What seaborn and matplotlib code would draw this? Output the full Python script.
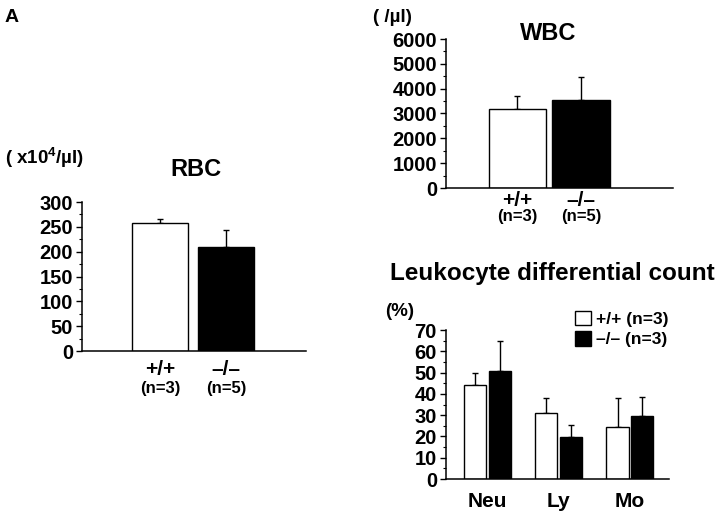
import matplotlib
matplotlib.use("Agg")
import matplotlib.pyplot as plt
import matplotlib.patches as mpatches
from matplotlib.ticker import MultipleLocator
import seaborn as sns
import pandas as pd

# values (mean + upper SEM)
genotypes = ["+/+", "–/–"]
rbc_n = ["(n=3)", "(n=5)"]
rbc_mean = [258, 209]
rbc_sem = [7, 35]

wbc_n = ["(n=3)", "(n=5)"]
wbc_mean = [3190, 3540]
wbc_sem = [520, 930]

cell_types = ["Neu", "Ly", "Mo"]
wt_pct = [44.3, 31.2, 24.6]
wt_sem = [5.5, 6.8, 13.4]
ko_pct = [50.7, 19.9, 29.4]
ko_sem = [14.3, 5.5, 9.2]
legend_labels = ["+/+ (n=3)", "–/– (n=3)"]

sns.set_style("ticks")
plt.rcParams['font.family'] = ['Liberation Sans', 'DejaVu Sans']
plt.rcParams['font.weight'] = 'bold'
plt.rcParams['axes.edgecolor'] = 'black'
plt.rcParams['xtick.color'] = 'black'
plt.rcParams['ytick.color'] = 'black'
plt.rcParams['text.color'] = 'black'
plt.rcParams['mathtext.fontset'] = 'custom'
plt.rcParams['mathtext.rm'] = 'Liberation Sans:bold'
plt.rcParams['mathtext.default'] = 'rm'

W, H = 720, 511
fig = plt.figure(figsize=(7.2, 5.11), dpi=100)
palette = {"+/+": "white", "–/–": "black"}


def px_axes(left, top, right, bottom):
    return fig.add_axes([left / W, 1 - bottom / H, (right - left) / W, (bottom - top) / H])


def ftext(x, y, s, **kw):
    fig.text(x / W, 1 - y / H, s, **kw)


def add_errbars(ax, sems_by_level):
    for cont, errs in zip(ax.containers, sems_by_level):
        xs = [b.get_x() + b.get_width() / 2 for b in cont]
        ys = [b.get_height() for b in cont]
        ax.errorbar(xs, ys, yerr=[[0] * len(errs), errs], fmt='none', ecolor='black',
                    elinewidth=1, capsize=2.5, capthick=1, zorder=0.5)


def style_axis(ax, major, minor):
    sns.despine(ax=ax)
    for sp in ax.spines.values():
        sp.set_linewidth(1.1)
    ax.yaxis.set_major_locator(MultipleLocator(major))
    ax.yaxis.set_minor_locator(MultipleLocator(minor))
    ax.tick_params(axis='y', which='major', length=4, width=1, pad=2.5, labelsize=14.5)
    ax.tick_params(axis='y', which='minor', length=2.5, width=0.8)
    ax.tick_params(axis='x', length=0)
    ax.set_xlabel("")
    ax.set_ylabel("")


def genotype_labels(ax, n_labels, off1, off2):
    ax.set_xticklabels([])
    for i, (g, n) in enumerate(zip(genotypes, n_labels)):
        ax.annotate(g, xy=(i, 0), xycoords=ax.get_xaxis_transform(), xytext=(0, -off1 * 0.72),
                    textcoords='offset points', ha='center', va='center', fontsize=15)
        ax.annotate(n, xy=(i, 0), xycoords=ax.get_xaxis_transform(), xytext=(0, -off2 * 0.72),
                    textcoords='offset points', ha='center', va='center', fontsize=12)


# RBC
ax1 = px_axes(82, 202, 306, 351)
sns.barplot(x=genotypes, y=rbc_mean, hue=genotypes, palette=palette, edgecolor='black',
            linewidth=1, width=0.86, errorbar=None, legend=False, ax=ax1)
add_errbars(ax1, [[e] for e in rbc_sem])
style_axis(ax1, 50, 25)
ax1.set_xlim(-1.18, 2.21)
ax1.set_ylim(0, 300)
genotype_labels(ax1, rbc_n, 18, 37)

# WBC
ax2 = px_axes(446, 39, 673, 188)
sns.barplot(x=genotypes, y=wbc_mean, hue=genotypes, palette=palette, edgecolor='black',
            linewidth=1, width=0.9, errorbar=None, legend=False, ax=ax2)
add_errbars(ax2, [[e] for e in wbc_sem])
style_axis(ax2, 1000, 500)
ax2.set_xlim(-1.126, 2.45)
ax2.set_ylim(0, 6000)
genotype_labels(ax2, wbc_n, 13, 29)

# Leukocyte differential count
leuk = pd.DataFrame({
    "cell": cell_types * 2,
    "genotype": [g for g in genotypes for _ in cell_types],
    "pct": wt_pct + ko_pct,
})
ax3 = px_axes(446, 330, 669, 479)
sns.barplot(data=leuk, x="cell", y="pct", hue="genotype", palette=palette, edgecolor='black',
            linewidth=1, width=0.69, gap=0.1, errorbar=None, ax=ax3)
add_errbars(ax3, [wt_sem, ko_sem])
style_axis(ax3, 10, 5)
ax3.set_xlim(-0.58, 2.55)
ax3.set_ylim(0, 70)
ax3.tick_params(axis='x', labelsize=15, pad=9)
handles = [mpatches.Patch(facecolor=palette[g], edgecolor='black', linewidth=1) for g in genotypes]
ax3.legend(handles, legend_labels, loc='upper left', bbox_to_anchor=(0.58, 1.13), frameon=False,
           handlelength=0.9, handleheight=0.9, handletextpad=0.3, labelspacing=0.25,
           borderpad=0, borderaxespad=0, fontsize=12.5)

# panel letter, titles and unit labels
ftext(5, 18, "A", fontsize=14, va='center', ha='left')
ftext(5, 158, "( x10$^{4}$/µl)", fontsize=13.5, va='center', ha='left')
ftext(196, 170, "RBC", fontsize=17, va='center', ha='center')
ftext(373, 17, "( /µl)", fontsize=13.5, va='center', ha='left')
ftext(548, 33, "WBC", fontsize=17, va='center', ha='center')
ftext(552, 273, "Leukocyte differential count", fontsize=17.5, va='center', ha='center')
ftext(385, 312, "(%)", fontsize=13.5, va='center', ha='left')

fig.savefig("out.png", dpi=100)
